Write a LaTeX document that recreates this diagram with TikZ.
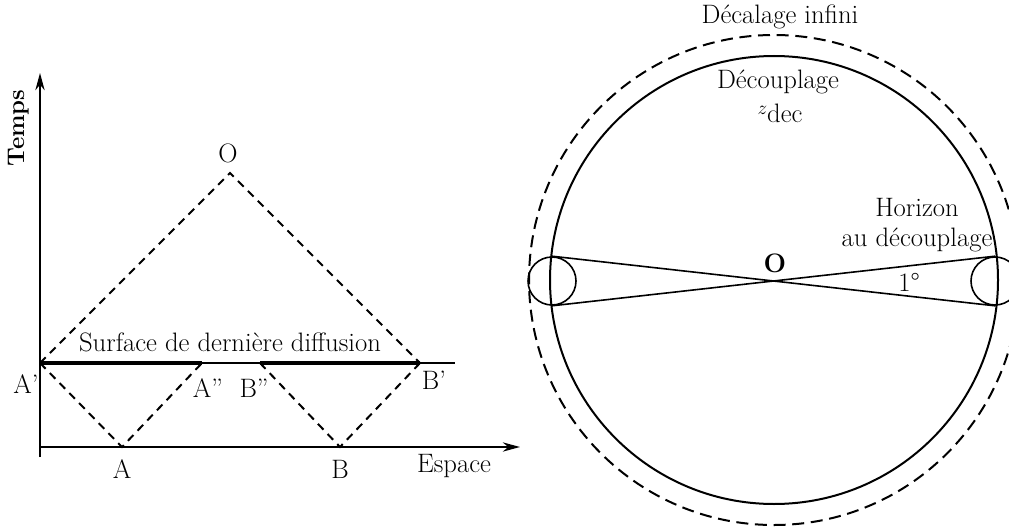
\documentclass[tikz,border=0pt]{standalone}
\usetikzlibrary{positioning, arrows.meta, calc}

\begin{document}
\begin{tikzpicture}[x=0.75pt,y=-0.75pt]
  \tikzset{lbl/.style={font=\fontsize{20}{23}\selectfont,inner sep=1pt},
    lcone/.style={line width=1.5pt,dash pattern=on 6pt off 4.5pt},
    axis/.style={line width=1.1pt,-{Stealth[length=13pt,width=7pt]}},
    surf/.style={line width=3pt},
    shell/.style={line width=1.5pt},
    capring/.style={draw,circle,line width=1.2pt,minimum size=36pt,inner sep=0pt}}
  \useasboundingbox (0,0) rectangle (1009,531);
  \clip (0,0) rectangle (1009,531);
  % espace-temps
  \coordinate (tfoot) at (40,457);
  \coordinate (tend) at (40,73);
  \coordinate (orig) at (40,447);
  \coordinate (xend) at (520,447);
  \coordinate (Ap) at (40,363);
  \coordinate (App) at (202,363);
  \coordinate (Bpp) at (260,363);
  \coordinate (Bp) at (420,363);
  \coordinate (send) at (455,363);
  \coordinate (A) at (122,447);
  \coordinate (B) at (340,447);
  \coordinate (apex) at (230,173);
  \draw[axis] (tfoot) -- (tend);
  \draw[axis] (orig) -- (xend);
  \draw[line width=1pt] (Ap) -- (send);
  \draw[surf] (Ap) -- (App); \draw[surf] (Bpp) -- (Bp);
  \draw[lcone] (Ap) -- (apex) -- (Bp);
  \draw[lcone] (Ap) -- (A) -- (App);
  \draw[lcone] (Bpp) -- (B) -- (Bp);
  \node[lbl,font=\fontsize{18}{20}\selectfont\bfseries,rotate=90] (temps) at (19,128) {Temps};
  \node[lbl] (oLeft) at (228,153) {O};
  \node[lbl] (surface) at (230,342) {Surface de dernière diffusion};
  \node[lbl] (lAp) at (26,384) {A'};
  \node[lbl] (lApp) at (208,388) {A''};
  \node[lbl] (lBpp) at (254,388) {B''};
  \node[lbl] (lBp) at (434,380) {B'};
  \node[lbl] (lA) at (122,469) {A};
  \node[lbl] (lB) at (340,469) {B};
  \node[lbl] (espace) at (454,466) {Espace};
  % sphere de derniere diffusion
  \coordinate (O) at (774,280);
  \draw[shell,dash pattern=on 9pt off 5pt] (O) circle[radius=245];
  \draw[shell] (O) circle[radius=224];
  \node[capring] (capL) at (552,281) {};
  \node[capring] (capR) at (995,281) {};
  \draw[line width=1.2pt] (capL.north) -- (capR.south);
  \draw[line width=1.2pt] (capL.south) -- (capR.north);
  \node[lbl] (infini) at (780,17) {Décalage infini};
  \node[lbl] (decoup) at (778,82) {Découplage};
  \node[lbl] (zdec) at (780,113) {\raisebox{6pt}{\fontsize{14}{14}\selectfont$z$}dec};
  \node[lbl,align=center] (horizon) at (917,225) {Horizon\\au découplage};
  \node[lbl,font=\fontsize{20}{23}\selectfont\bfseries] (oRight) at (775,263) {O};
  \node[lbl] (angle) at (909,282) {1°};
\end{tikzpicture}
\end{document}
